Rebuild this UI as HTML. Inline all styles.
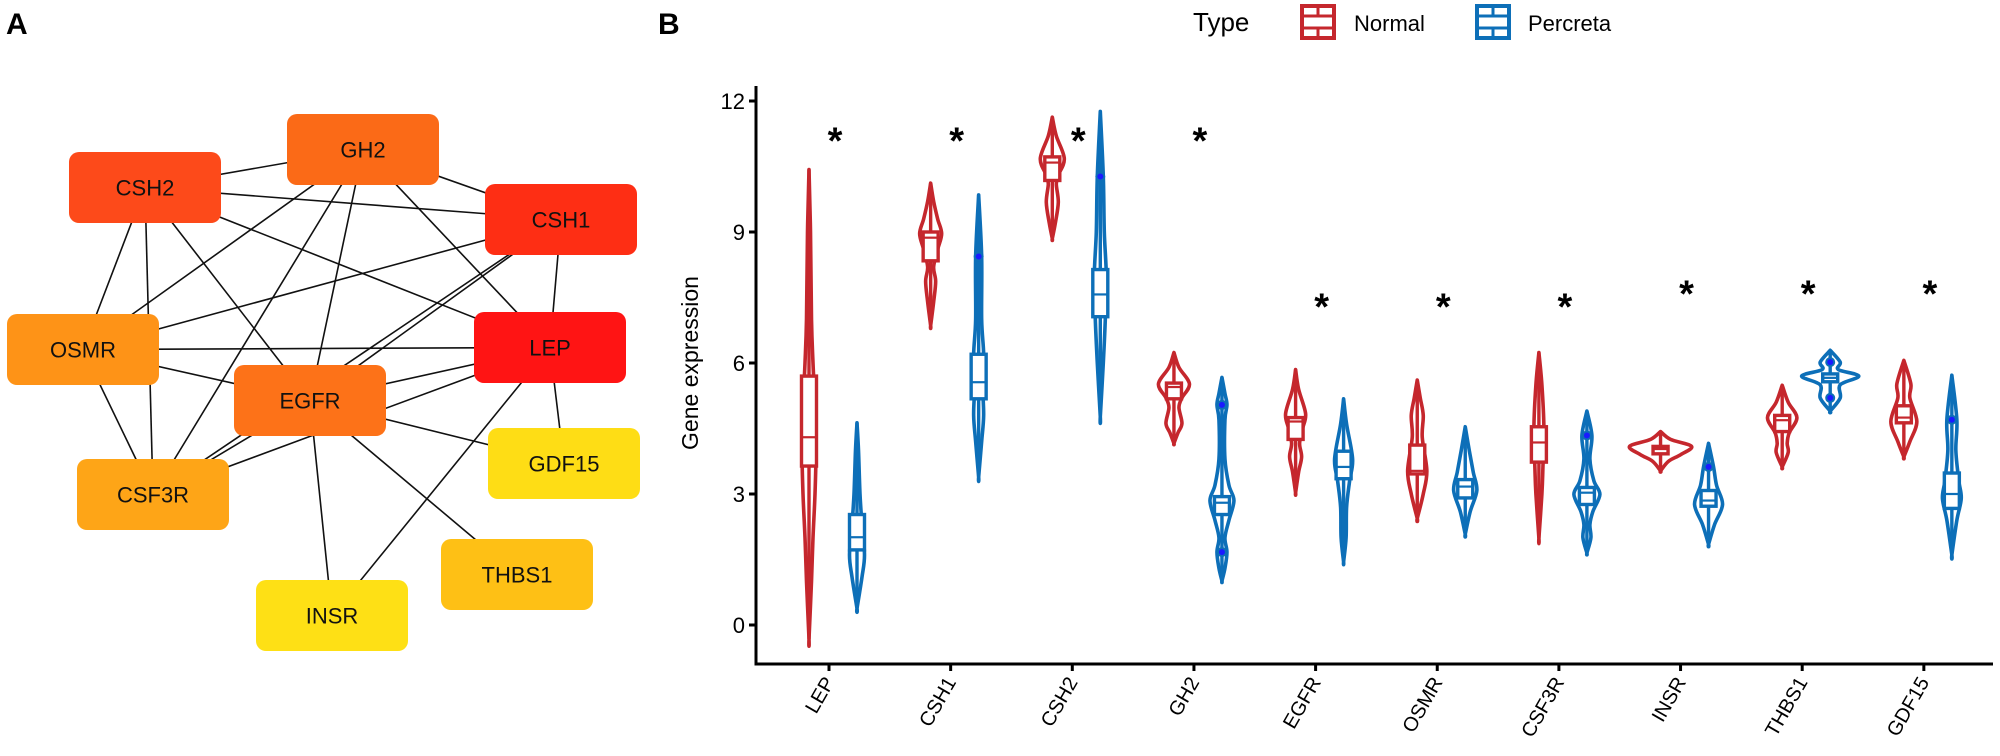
<!DOCTYPE html>
<html><head><meta charset="utf-8"><style>
html,body{margin:0;padding:0;background:#fff;}
svg{display:block;font-family:"Liberation Sans",Arial,sans-serif;}
</style></head><body>
<svg id="fig" width="2000" height="756" viewBox="0 0 2000 756" xmlns="http://www.w3.org/2000/svg">
<text x="6" y="34" font-size="30" font-weight="bold">A</text>
<text x="658" y="34" font-size="30" font-weight="bold">B</text>
<g id="net"></g>
<g id="chart"></g>
<g>
<text x="1193" y="31" font-size="26">Type</text>
<g>
<rect x="1302" y="6" width="32" height="32" fill="none" stroke="#c5272d" stroke-width="4"/>
<line x1="1302" y1="16" x2="1334" y2="16" stroke="#c5272d" stroke-width="3"/><line x1="1302" y1="28" x2="1334" y2="28" stroke="#c5272d" stroke-width="3"/><line x1="1318" y1="6" x2="1318" y2="16" stroke="#c5272d" stroke-width="3"/><line x1="1318" y1="28" x2="1318" y2="38" stroke="#c5272d" stroke-width="3"/>
<text x="1354" y="31" font-size="22">Normal</text></g>
<g>
<rect x="1477" y="6" width="32" height="32" fill="none" stroke="#0d6fb8" stroke-width="4"/>
<line x1="1477" y1="16" x2="1509" y2="16" stroke="#0d6fb8" stroke-width="3"/><line x1="1477" y1="28" x2="1509" y2="28" stroke="#0d6fb8" stroke-width="3"/><line x1="1493" y1="6" x2="1493" y2="16" stroke="#0d6fb8" stroke-width="3"/><line x1="1493" y1="28" x2="1493" y2="38" stroke="#0d6fb8" stroke-width="3"/>
<text x="1528" y="31" font-size="22">Percreta</text></g>
</g>
</svg>
<script>
const NS="http://www.w3.org/2000/svg";
function mk(tag,attrs,parent){const e=document.createElementNS(NS,tag);for(const k in attrs)e.setAttribute(k,attrs[k]);parent.appendChild(e);return e;}

// ---------- network ----------
const nodeNames=["GH2","CSH2","CSH1","OSMR","LEP","EGFR","GDF15","CSF3R","THBS1","INSR"];
const nodeBoxes=[[287,114],[69,152],[485,184],[7,314],[474,312],[234,365],[488,428],[77,459],[441,539],[256,580]];
const nodeColors=["#fb6a17","#fd4a1a","#fe2e14","#fe9317","#ff1414","#fd7218","#fedd15","#fea517","#fec015","#fee015"];
const edges=[["CSH2","GH2"],["GH2","CSH1"],["CSH2","CSH1"],["CSH2","LEP"],["CSH2","OSMR"],["CSH2","CSF3R"],["CSH2","EGFR"],["GH2","OSMR"],["GH2","CSF3R"],["GH2","EGFR"],["GH2","LEP"],["CSH1","OSMR"],["CSH1","EGFR"],["CSH1","CSF3R"],["CSH1","LEP"],["OSMR","LEP"],["OSMR","EGFR"],["OSMR","CSF3R"],["CSF3R","EGFR"],["CSF3R","LEP"],["EGFR","LEP"],["EGFR","GDF15"],["EGFR","INSR"],["EGFR","THBS1"],["LEP","INSR"],["LEP","GDF15"]];
const net=document.getElementById("net");
const BW=152,BH=71;
function ctr(n){const b=nodeBoxes[nodeNames.indexOf(n)];return [b[0]+BW/2,b[1]+BH/2];}
edges.forEach(([a,b])=>{const p=ctr(a),q=ctr(b);
 const l=mk("line",{x1:p[0],y1:p[1],x2:q[0],y2:q[1],stroke:"#111","stroke-width":1.6},net);
 
 });
nodeNames.forEach((n,i)=>{const b=nodeBoxes[i];
 const g=mk("g",{},net);
 
 
 mk("rect",{x:b[0],y:b[1],width:BW,height:BH,rx:10,fill:nodeColors[i]},g);
 const t=mk("text",{x:b[0]+BW/2,y:b[1]+BH/2+8,"font-size":22,"text-anchor":"middle",fill:"#111"},g);t.textContent=n;});

// ---------- violin chart ----------
const categories=["LEP","CSH1","CSH2","GH2","EGFR","OSMR","CSF3R","INSR","THBS1","GDF15"];
const yTicks=[0,3,6,9,12];
const sigLevel=[11.3,11.3,11.3,11.3,7.5,7.5,7.5,7.8,7.8,7.8];
const normalDensity=[
 [[10.43,0],[9,1.5],[7,2.5],[6,4],[5,6],[4,7],[3,6],[2,4],[1,2.5],[-0.32,0]],
 [[10.12,0],[9.7,3],[9.3,7],[8.96,11],[8.6,7],[8.2,3],[7.87,5],[7.4,3],[6.86,0]],
 [[11.63,0],[11.2,4],[10.68,12],[10.3,6],[10.1,4],[9.68,6],[9.2,3],[8.85,0]],
 [[6.24,0],[5.9,5],[5.52,15.5],[5.2,8],[4.98,5],[4.62,8],[4.4,4],[4.16,0]],
 [[5.85,0],[5.4,3],[4.84,10],[4.5,7],[4.16,4],[3.85,6],[3.5,3],[3.03,0]],
 [[5.61,0],[5.2,3],[4.8,6],[4.3,5],[3.53,9.6],[3,6],[2.44,0]],
 [[6.24,0],[5.5,3],[4.52,5],[3.6,4],[3,3],[1.99,0]],
 [[4.43,0],[4.25,10],[4.09,31],[3.9,20],[3.75,8],[3.53,0]],
 [[5.49,0],[5.1,6],[4.75,14.7],[4.4,7],[4.16,5],[3.95,6],[3.62,0]],
 [[6.06,0],[5.52,7],[5.2,6],[4.66,13],[4.2,6],[3.85,0]]];
const percretaDensity=[
 [[4.63,0],[4,1.5],[3,3],[2.3,5],[1.6,7.5],[1.1,5],[0.38,0]],
 [[9.85,0],[8.44,3],[7,3],[6.2,5],[5.5,4],[4.8,5],[4.2,3],[3.39,0]],
 [[11.76,0],[10.27,3],[9,4],[8,6],[7,5],[6,3],[4.77,0]],
 [[5.67,0],[5.3,3],[5.04,5],[4.7,3],[3.8,3],[3.2,7],[2.85,12],[2.4,7],[2,3],[1.67,5],[1.3,3],[1.01,0]],
 [[5.18,0],[4.6,3],[3.8,9],[3.3,6],[2.7,3],[2,2.5],[1.45,0]],
 [[4.54,0],[4,4],[3.5,8],[3.08,11.6],[2.6,5],[2.08,0]],
 [[4.9,0],[4.34,5],[3.8,3],[3.3,7],[2.99,13],[2.6,6],[2.3,3],[2,4],[1.65,0]],
 [[4.16,0],[3.62,5],[3.2,8],[2.76,14],[2.3,6],[1.85,0]],
 [[6.29,0],[6.02,10],[5.85,8],[5.7,28.6],[5.5,10],[5.2,10],[4.9,0]],
 [[5.72,0],[4.7,5],[4,4],[3.3,7],[2.9,9.4],[2.4,5],[1.61,0]]];
const normalBox=[[3.64,4.3,5.7],[8.34,8.87,9.0],[10.18,10.59,10.72],[5.18,5.45,5.54],[4.25,4.66,4.75],[3.46,3.53,4.12],[3.73,4.18,4.54],[3.92,4.03,4.09],[4.43,4.69,4.8],[4.63,4.75,5.02]];
const percretaBox=[[1.72,2.01,2.53],[5.18,5.56,6.2],[7.06,7.57,8.14],[2.53,2.8,2.94],[3.35,3.62,3.98],[2.91,3.17,3.33],[2.76,3.03,3.15],[2.72,2.85,3.08],[5.57,5.66,5.75],[2.67,3.0,3.48]];
const normalPoints=[[],[],[],[],[],[],[],[],[],[]];
const percretaPoints=[[],[8.44],[10.27],[5.04,1.67],[],[],[4.34],[3.62],[6.02,5.2],[4.7]];

const X0=829,STEP=121.65,AX=756,AY=664;
function xPos(i){return X0+STEP*i;}
function yPos(v){return 625-v*131/3;}
const ch=document.getElementById("chart");
const RED="#c5272d",BLUE="#0d6fb8";

const ya=mk("line",{x1:AX,y1:86,x2:AX,y2:AY+1.5,stroke:"#000","stroke-width":3},ch);


const xa=mk("line",{x1:AX-1.5,y1:AY,x2:1993,y2:AY,stroke:"#000","stroke-width":3},ch);


yTicks.forEach(v=>{const y=yPos(v);
 mk("line",{x1:AX-7,y1:y,x2:AX,y2:y,stroke:"#000","stroke-width":3},ch);
 const t=mk("text",{x:AX-11,y:y+8,"font-size":22,"text-anchor":"end"},ch);
 
 
 t.textContent=v;});
const yt=mk("text",{x:0,y:0,"font-size":23,"text-anchor":"middle",transform:"translate(698,363) rotate(-90)"},ch);


yt.textContent="Gene expression";

function violinPath(cx,prof){
 let r=prof.map(p=>[cx+p[1],yPos(p[0])]);
 let l=prof.slice().reverse().map(p=>[cx-p[1],yPos(p[0])]);
 const pts=r.concat(l);
 let d="M"+pts[0][0]+","+pts[0][1];
 for(let i=0;i<pts.length-1;i++){
  const p0=pts[Math.max(i-1,0)],p1=pts[i],p2=pts[i+1],p3=pts[Math.min(i+2,pts.length-1)];
  const c1=[p1[0]+(p2[0]-p0[0])/6,p1[1]+(p2[1]-p0[1])/6],c2=[p2[0]-(p3[0]-p1[0])/6,p2[1]-(p3[1]-p1[1])/6];
  d+=` C${c1[0]},${c1[1]} ${c2[0]},${c2[1]} ${p2[0]},${p2[1]}`;}
 return d+"Z";}

function drawViolin(cx,prof,box,pts,col,name){
 const g=mk("g",{},ch);
 
 
 mk("path",{d:violinPath(cx,prof),fill:"none",stroke:col,"stroke-width":3.6,"stroke-linejoin":"round"},g);
 const top=prof[0][0],bot=prof[prof.length-1][0];
 mk("line",{x1:cx,y1:yPos(top),x2:cx,y2:yPos(bot),stroke:col,"stroke-width":3.4},g);
 mk("rect",{x:cx-7.5,y:yPos(box[2]),width:15,height:Math.max(yPos(box[0])-yPos(box[2]),2),fill:"#fff",stroke:col,"stroke-width":3.4},g);
 mk("line",{x1:cx-7.5,y1:yPos(box[1]),x2:cx+7.5,y2:yPos(box[1]),stroke:col,"stroke-width":2.2},g);
 pts.forEach(v=>{mk("circle",{cx:cx,cy:yPos(v),r:4,fill:"#1a1aff",stroke:col,"stroke-width":2},g);});
}

categories.forEach((c,i)=>{
 const x=xPos(i);
 mk("line",{x1:x,y1:AY,x2:x,y2:AY+7,stroke:"#000","stroke-width":3},ch);
 const t=mk("text",{x:0,y:0,"font-size":20,"text-anchor":"end",transform:`translate(${x+6},${AY+18}) rotate(-60)`},ch);
 
 
 t.textContent=c;
 drawViolin(x-20,normalDensity[i],normalBox[i],normalPoints[i],RED,'violin-normal-'+c.toLowerCase());
 drawViolin(x+28,percretaDensity[i],percretaBox[i],percretaPoints[i],BLUE,'violin-percreta-'+c.toLowerCase());
 const s=mk("text",{x:x+6,y:yPos(sigLevel[i])+22,"font-size":38,"font-weight":"bold","text-anchor":"middle"},ch);
 
 
 s.textContent="*";
});
</script>
</body></html>
